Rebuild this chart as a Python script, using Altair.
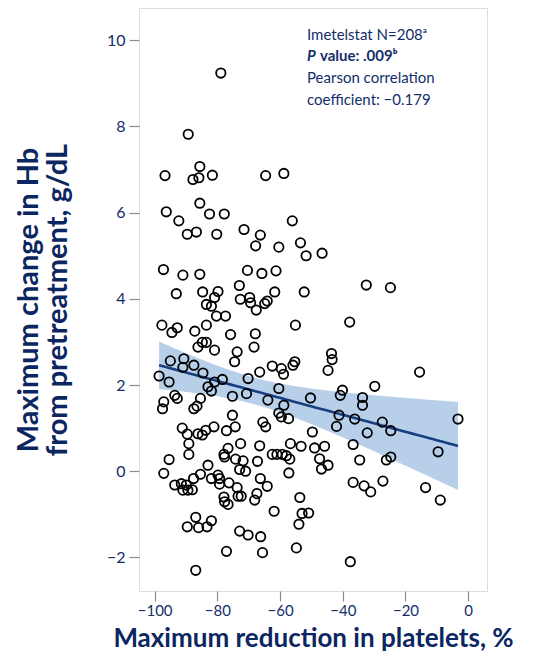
import altair as alt
import numpy as np
import pandas as pd

# Maximum reduction in platelets (%) and maximum change in Hb (g/dL)
platelet_reduction = [
    -78.9, -89.3, -85.6, -96.7, -87.8, -85.9, -81.6, -64.6, -58.8, -96.3,
    -92.3, -85.6, -82.5, -77.8, -56.1, -89.6, -86.7, -80.2, -71.5, -66.3,
    -67.8, -60.4, -53.5, -51.7, -46.6, -97.2, -91.0, -85.6, -70.4, -65.8,
    -61.3, -73.0, -93.1, -84.7, -79.8, -61.7, -52.3, -80.9, -83.5, -81.9,
    -72.7, -69.7, -69.4, -67.6, -64.9, -64.1, -80.3, -77.4, -97.7, -94.5,
    -92.8, -87.2, -83.5, -75.8, -67.9, -55.1, -86.2, -84.8, -83.5, -80.9,
    -73.7, -74.5, -68.3, -43.6, -43.4, -44.7, -95.0, -90.7, -91.0, -87.5,
    -84.6, -98.6, -95.4, -78.4, -80.9, -83.0, -81.9, -70.2, -66.5, -62.5,
    -59.6, -58.9, -55.9, -55.3, -75.2, -70.7, -63.9, -60.4, -50.3, -58.8,
    -60.4, -59.6, -57.3, -93.6, -92.8, -97.1, -97.5, -85.4, -87.5, -86.5,
    -75.2, -65.5, -64.6, -91.2, -89.6, -86.2, -84.8, -83.7, -81.1, -77.1,
    -74.3, -49.7, -89.1, -89.1, -95.4, -76.6, -77.9, -77.7, -72.6, -66.5,
    -74.2, -71.8, -67.2, -62.5, -61.0, -59.3, -58.0, -56.9, -56.7, -53.3,
    -49.0, -45.8, -47.4, -44.7, -46.8, -72.9, -71.0, -83.0, -97.1, -57.2,
    -85.4, -87.6, -93.6, -91.5, -91.0, -89.9, -89.4, -88.0, -81.9, -79.8,
    -79.3, -79.3, -76.3, -73.7, -73.4, -72.4, -77.9, -77.7, -76.6, -68.1,
    -67.4, -66.3, -64.1, -53.7, -53.0, -50.9, -54.0, -61.9, -86.9, -89.6,
    -86.0, -83.3, -81.9, -72.9, -70.2, -66.2, -77.1, -65.6, -54.8, -86.9,
    -32.5, -24.8, -37.8, -15.5, -40.1, -40.8, -29.8, -33.7, -33.7, -41.2,
    -42.0, -36.2, -27.4, -24.7, -32.2, -3.25, -36.7, -9.6, -34.6, -26.1,
    -24.7, -36.7, -33.2, -31.1, -27.2, -13.6, -8.9, -37.6,
]
hb_change = [
    9.24, 7.82, 7.07, 6.86, 6.77, 6.81, 6.87, 6.86, 6.91, 6.02,
    5.81, 6.22, 5.97, 5.97, 5.81, 5.50, 5.55, 5.50, 5.61, 5.48,
    5.23, 5.20, 5.30, 5.00, 5.06, 4.68, 4.55, 4.57, 4.66, 4.59,
    4.65, 4.31, 4.12, 4.16, 4.17, 4.16, 4.16, 4.03, 3.87, 3.83,
    3.99, 4.03, 3.91, 3.74, 3.89, 3.95, 3.60, 3.60, 3.39, 3.22,
    3.33, 3.25, 3.39, 3.17, 3.19, 3.39, 2.88, 2.99, 2.99, 2.81,
    2.77, 2.54, 2.88, 2.73, 2.59, 2.34, 2.56, 2.61, 2.41, 2.46,
    2.28, 2.21, 2.07, 2.13, 2.07, 1.96, 1.86, 2.15, 2.30, 2.44,
    2.38, 2.25, 2.46, 2.54, 1.74, 1.80, 1.65, 1.92, 1.70, 1.53,
    1.35, 1.26, 1.22, 1.76, 1.69, 1.61, 1.45, 1.69, 1.45, 1.51,
    1.30, 1.14, 1.03, 1.00, 0.86, 0.87, 0.84, 0.95, 1.03, 0.94,
    1.03, 0.91, 0.64, 0.39, 0.27, 0.53, 0.39, 0.33, 0.64, 0.59,
    0.28, 0.24, 0.23, 0.39, 0.39, 0.39, 0.36, 0.28, 0.64, 0.58,
    0.54, 0.58, 0.29, 0.14, 0.05, 0.04, 0.00, 0.14, -0.05, -0.04,
    -0.07, -0.17, -0.32, -0.29, -0.44, -0.32, -0.44, -0.43, -0.17, -0.09,
    -0.17, -0.30, -0.27, -0.38, -0.58, -0.58, -0.60, -0.71, -0.77, -0.67,
    -0.52, -0.17, -0.35, -0.61, -0.98, -0.97, -1.23, -0.93, -1.07, -1.29,
    -1.31, -1.29, -1.15, -1.39, -1.48, -1.52, -1.86, -1.89, -1.78, -2.30,
    4.32, 4.26, 3.46, 2.30, 1.88, 1.76, 1.97, 1.71, 1.53, 1.30,
    1.04, 1.21, 1.14, 0.94, 0.89, 1.21, 0.62, 0.45, 0.26, 0.26,
    0.33, -0.26, -0.34, -0.48, -0.23, -0.38, -0.67, -2.10,
]

x_ticks = [-100, -80, -60, -40, -20, 0]
y_ticks = [-2, 0, 2, 4, 6, 8, 10]
annot_lines = ["Imetelstat N=208\u1d43", "Pearson correlation", "coefficient: \u22120.179"]
p_label = "P"
p_rest = "value: .009\u1d47"

pts = pd.DataFrame({"x": platelet_reduction, "y": hb_change})

# Least-squares fit with 95% confidence band of the mean, computed from the points
xa = np.array(platelet_reduction, dtype=float)
ya = np.array(hb_change, dtype=float)
n = len(xa)
xm = xa.mean()
sxx = ((xa - xm) ** 2).sum()
b1 = ((xa - xm) * (ya - ya.mean())).sum() / sxx
b0 = ya.mean() - b1 * xm
s = np.sqrt(((ya - (b0 + b1 * xa)) ** 2).sum() / (n - 2))
grid = np.linspace(xa.min(), xa.max(), 60)
fit = b0 + b1 * grid
half = 1.9715 * s * np.sqrt(1.0 / n + (grid - xm) ** 2 / sxx)
fit_df = pd.DataFrame({"x": grid, "fit": fit, "lo": fit - half, "hi": fit + half})

NAVY = "#132e6b"
FONT = "Lato"

xscale = alt.Scale(domain=[-105, 6], nice=False, zero=False)
yscale = alt.Scale(domain=[-2.78, 10.75], nice=False, zero=False)

xaxis = alt.Axis(values=x_ticks, domain=False, grid=False, tickSize=10, tickColor="#8c8c8c",
                 tickWidth=1.2, labelColor=NAVY, labelFont=FONT, labelFontSize=15, labelPadding=2,
                 title="Maximum reduction in platelets, %", titleFont=FONT, titleFontSize=26,
                 titleFontWeight="bold", titleColor="#0b2660",
                 titleBaseline="alphabetic", titleY=55)
yaxis = alt.Axis(values=y_ticks, domain=False, grid=False, tickSize=10, tickColor="#8c8c8c",
                 tickWidth=1.2, labelColor=NAVY, labelFont=FONT, labelFontSize=16, labelPadding=4,
                 title=["Maximum change in Hb", "from pretreatment, g/dL"], titleFont=FONT,
                 titleFontSize=29, titleFontWeight="bold", titleColor="#0b2660",
                 titleLineHeight=29, titlePadding=34)

band = alt.Chart(fit_df).mark_area(color="#b8cfea", opacity=1).encode(
    x=alt.X("x:Q", scale=xscale, axis=xaxis),
    y=alt.Y("lo:Q", scale=yscale, axis=yaxis),
    y2="hi:Q",
)
line = alt.Chart(fit_df).mark_line(color="#173f80", strokeWidth=2.6).encode(
    x=alt.X("x:Q", scale=xscale), y=alt.Y("fit:Q", scale=yscale)
)
points = alt.Chart(pts).mark_point(shape="circle", filled=False, color="black", size=88,
                                   strokeWidth=1.8, opacity=1).encode(
    x=alt.X("x:Q", scale=xscale), y=alt.Y("y:Q", scale=yscale)
)

ann_df = pd.DataFrame({"t": annot_lines, "yy": [32.4, 74.7, 96.7]})
ann = alt.Chart(ann_df).mark_text(align="left", baseline="alphabetic", font=FONT, fontSize=15,
                                  color=NAVY).encode(
    x=alt.value(168), y=alt.Y("yy:Q", scale=None), text="t:N"
)
p1 = alt.Chart(pd.DataFrame({"t": [p_label]})).mark_text(
    align="left", baseline="alphabetic", font=FONT, fontSize=15, fontWeight="bold",
    fontStyle="italic", color=NAVY).encode(x=alt.value(168), y=alt.value(52.7), text="t:N")
p2 = alt.Chart(pd.DataFrame({"t": [p_rest]})).mark_text(
    align="left", baseline="alphabetic", font=FONT, fontSize=15, fontWeight="bold",
    color=NAVY).encode(x=alt.value(181), y=alt.value(52.7), text="t:N")

chart = alt.layer(band, line, points, ann, p1, p2).properties(
    width=348, height=583,
    autosize=alt.AutoSizeParams(type="none"),
    padding={"left": 131, "top": 0, "right": 39, "bottom": 60},
).configure_view(stroke="#4a4f78", strokeWidth=1.3).configure(background="white")

chart.save("out.html", embed_options={"renderer": "svg", "actions": False})
